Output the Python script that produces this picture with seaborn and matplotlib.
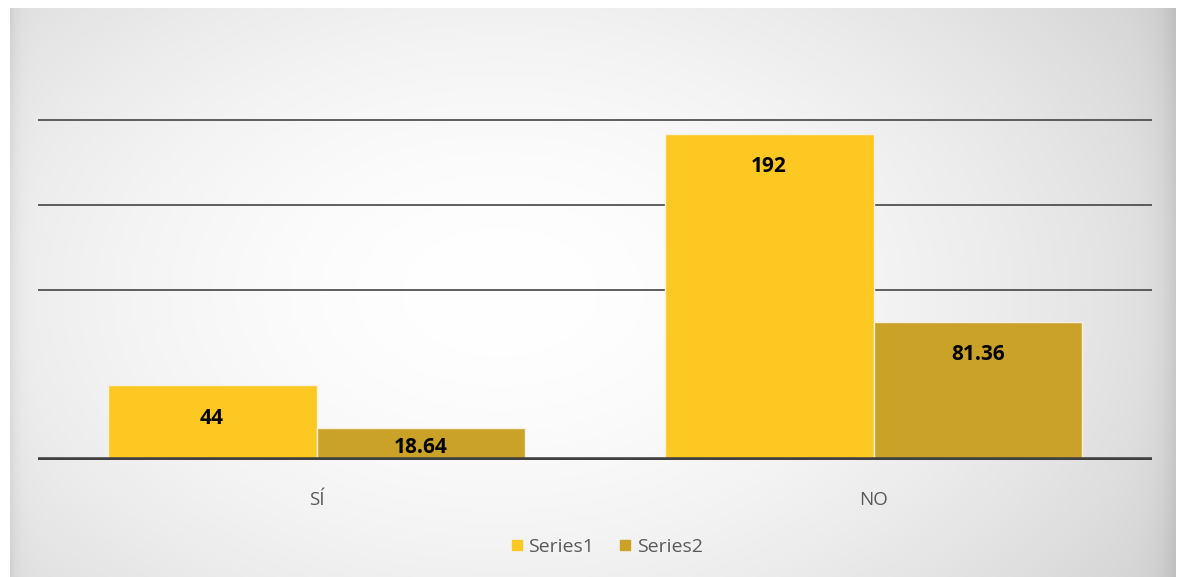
import numpy as np
import pandas as pd
import matplotlib
matplotlib.use("Agg")
import matplotlib.pyplot as plt
import seaborn as sns
from matplotlib.lines import Line2D

categories = ["SÍ", "NO"]
series_names = ["Series1", "Series2"]
series1 = [44, 192]
series2 = [18.64, 81.36]
label_text1 = ["44", "192"]
label_text2 = ["18.64", "81.36"]
grid_values = [100, 150, 200]

df = pd.DataFrame({
    "cat": categories * 2,
    "series": [series_names[0]] * 2 + [series_names[1]] * 2,
    "value": series1 + series2,
})

sns.set_theme(style="white")
plt.rcParams["font.family"] = ["Open Sans", "DejaVu Sans"]

W, H = 1181, 577
fig = plt.figure(figsize=(W / 100, H / 100), dpi=100)
fig.patch.set_facecolor("white")

# gradient background panel
bg = fig.add_axes([10 / W, 0, (1176 - 10) / W, (577 - 8) / H], zorder=0)
yy, xx = np.mgrid[0:1:300j, 0:1:600j]
d = np.sqrt(((xx - 0.42) / 0.7) ** 2 + ((yy - 0.5) / 0.95) ** 2)
shade = 1.0 - 0.18 * np.clip(d, 0, 1.3) ** 1.8
# darker edge strips
shade -= 0.06 * np.exp(-xx / 0.006) + 0.08 * np.exp(-(1 - xx) / 0.012)
img = np.dstack([shade, shade, shade])
bg.imshow(np.clip(img, 0, 1), aspect="auto", extent=[0, 1, 0, 1], interpolation="bilinear")
bg.set_xlim(0, 1)
bg.set_ylim(0, 1)
bg.axis("off")

ax = fig.add_axes([38 / W, 117 / H, (1152 - 38) / W, (460 - 52.5) / H], zorder=1)
ax.patch.set_alpha(0)

palette = {"Series1": "#FDC822", "Series2": "#C9A227"}
sns.barplot(data=df, x="cat", y="value", hue="series", order=categories,
            hue_order=series_names, palette=palette, width=0.75, ax=ax,
            saturation=1, legend=False, linewidth=1, edgecolor="#f5f0e0", zorder=2)

ax.set_xlim(-0.5, 1.5)
ax.set_ylim(0, 240)
ax.set_yticks([])
for yv in grid_values:
    ax.axhline(yv, color="#444444", lw=1.2, zorder=1)
ax.axhline(0, color="#404040", lw=4, zorder=3)
for s in ax.spines.values():
    s.set_visible(False)

ax.set_xlabel("")
ax.set_ylabel("")
ax.tick_params(axis="x", length=0, pad=22, labelsize=13.5, labelcolor="#595959")

# data labels (inside end)
off = 19.4
texts = label_text1 + label_text2
for i, p in enumerate(ax.patches[:4]):
    h = p.get_height()
    x = p.get_x() + p.get_width() / 2
    y = max(h - off, 7.6)
    ax.text(x, y, texts[i], ha="center", va="center", fontsize=15,
            fontweight="bold", color="black", zorder=4)

handles = [Line2D([0], [0], marker="s", linestyle="", markersize=7,
                  markerfacecolor=palette[n], markeredgecolor=palette[n]) for n in series_names]
fig.legend(handles, series_names, loc="center", bbox_to_anchor=(606 / W, 1 - 547 / H),
           ncol=2, frameon=False, fontsize=14, labelcolor="#595959",
           handletextpad=0.2, columnspacing=1.2, handlelength=0.8)

fig.savefig("out.png", dpi=100)
